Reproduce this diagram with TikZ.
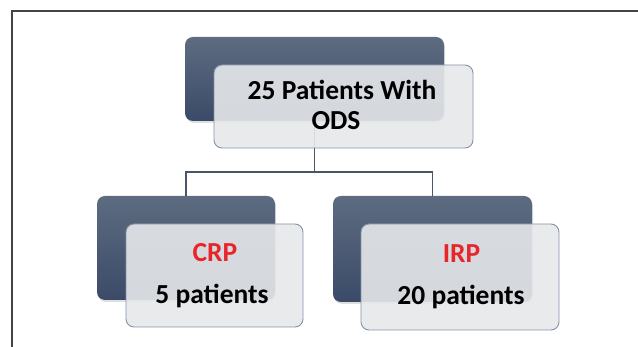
\documentclass[tikz,border=0pt]{standalone}
\usepackage{fontspec}
\setmainfont{Carlito}
\usetikzlibrary{shadows}
\definecolor{darktop}{HTML}{5E6C81}
\definecolor{darkbot}{HTML}{3B4A67}
\definecolor{lightfill}{HTML}{E6E8EA}
\definecolor{lightedge}{HTML}{8292A8}
\definecolor{linkcol}{HTML}{4A5568}
\definecolor{framecol}{HTML}{444444}
\definecolor{redtxt}{HTML}{E8262A}
\tikzset{
  darkbox/.style={rectangle, rounded corners=8pt, top color=darktop, bottom color=darkbot, draw=none,
    drop shadow={opacity=0.25, shadow xshift=1pt, shadow yshift=-2pt}},
  lightbox/.style={rectangle, rounded corners=8pt, fill=lightfill, fill opacity=0.9, draw=lightedge, line width=0.9pt},
  link/.style={draw=linkcol, line width=1.3pt},
  lbl/.style={anchor=base, font=\bfseries\fontsize{27.5}{32}\selectfont, inner sep=0pt},
}
\begin{document}
\begin{tikzpicture}[x=1pt,y=1pt]
\useasboundingbox (0,0) rectangle (638,347);
% frame
\draw[framecol, line width=1.5pt] (12,0) -- (12,336) -- (638,336);
% dark boxes
\node[darkbox, minimum width=259pt, minimum height=84pt] (topd) at (314.5,268) {};
\node[darkbox, minimum width=178pt, minimum height=104pt] (cld) at (186,99) {};
\node[darkbox, minimum width=199pt, minimum height=106pt] (crd) at (432.5,98) {};
% connectors
\coordinate (bar) at (314.5,175);
\draw[link] (topd.south) -- (bar) -| (cld.north);
\draw[link] (bar) -| (crd.north);
% light boxes
\node[lightbox, minimum width=259pt, minimum height=83pt] (topl) at (343.5,240.5) {};
\node[lightbox, minimum width=177pt, minimum height=103pt] (cll) at (214.5,71.5) {};
\node[lightbox, minimum width=198pt, minimum height=106pt] (crl) at (460,70) {};
% texts
\node[lbl] (t1) at (342,247) {25 Patients With};
\node[lbl] (t2) at (336,217) {ODS};
\node[lbl, text=redtxt] (t3) at (215,85) {CRP};
\node[lbl] (t4) at (212,43) {5 patients};
\node[lbl, text=redtxt] (t5) at (461.5,84) {IRP};
\node[lbl] (t6) at (461,42) {20 patients};
\end{tikzpicture}
\end{document}
